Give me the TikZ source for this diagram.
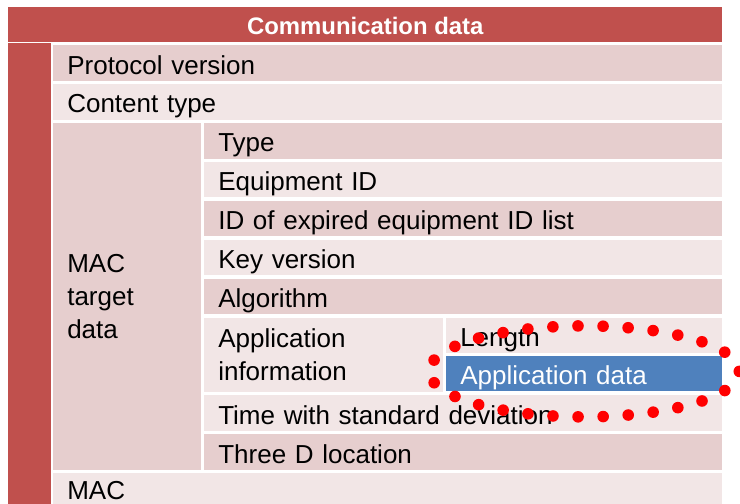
\documentclass[tikz,border=0pt]{standalone}
\usepackage{fontspec}
\setmainfont{Liberation Sans}
\definecolor{colframe}{HTML}{C0504D}
\definecolor{colband}{HTML}{E6CECE}
\definecolor{colplain}{HTML}{F2E6E6}
\definecolor{colpick}{HTML}{4F81BD}
\definecolor{colring}{HTML}{FF0000}
\newcommand\cellfont{\fontsize{18.5}{23.4}\selectfont}
\tikzset{
    cell/.style={
        rectangle, anchor=north west, align=left,
        inner xsep=0.35cm, inner ysep=0pt,
        font=\cellfont, text=black,
    },
    row/.style={cell, minimum height=0.8875cm,
        text height=0.65cm, text depth=0.1cm},
    band/.style={row, fill=colband},
    plain/.style={row, fill=colplain},
    block/.style={cell, fill=#1},
    full/.style={text width=16.025cm},
    wide/.style={text width=12.25cm},
    sub/.style={text width=6.2cm},
    header/.style={rectangle, anchor=north west, fill=colframe,
        inner sep=0pt, minimum width=17.85cm, minimum height=0.875cm,
        text height=0.6cm, text depth=0.1cm,
        font=\fontsize{17}{20}\selectfont\bfseries, text=white},
    ring/.style={draw=colring, line width=0.29cm, line cap=round,
        dash pattern=on 0pt off 0.6276cm},
}

\begin{document}
\begin{tikzpicture}

\useasboundingbox (0, 0) rectangle (18.5, -12.575);

% ===== FRAME =====
\node[header] (title) at (0.20, -0.175) {Communication data};
\fill[colframe] (title.south west) rectangle (1.275, -12.70);

% ===== TOP ROWS =====
\node[band, full] (protocol) at (1.325, -1.125) {Protocol version};
\node[plain, full] (content) at (1.325, -2.0975) {Content type};

% ===== MAC TARGET DATA =====
\node[block=colband, text width=3.0cm, minimum height=8.6675cm] (mactarget) at (1.325, -3.07) {MAC\\target\\data};
\node[band, wide] (type) at (5.10, -3.07) {Type};
\node[plain, wide] (equip) at (5.10, -4.0425) {Equipment ID};
\node[band, wide] (expired) at (5.10, -5.015) {ID of expired equipment ID list};
\node[plain, wide] (keyver) at (5.10, -5.9875) {Key version};
\node[band, wide] (algo) at (5.10, -6.96) {Algorithm};
\node[block=colplain, text width=5.275cm, minimum height=1.86cm] (appinfo) at (5.10, -7.9325) {Application\\information};
\node[plain, sub] (length) at (11.15, -7.9325) {Length};
\node[plain, sub, fill=colpick, text=white, minimum height=0.875cm] (appdata) at (11.15, -8.90) {Application data};
\node[plain, wide] (timedev) at (5.10, -9.8775) {Time with standard deviation};
\node[band, wide] (location) at (5.10, -10.85) {Three D location};

% ===== MAC =====
\node[plain, full, text depth=0.4cm] (mac) at (1.325, -11.8225) {MAC};

% ===== HIGHLIGHT =====
\draw[ring] ([yshift=0.06cm]appdata.center) ellipse [x radius=3.875cm, y radius=1.1375cm];

\end{tikzpicture}
\end{document}
